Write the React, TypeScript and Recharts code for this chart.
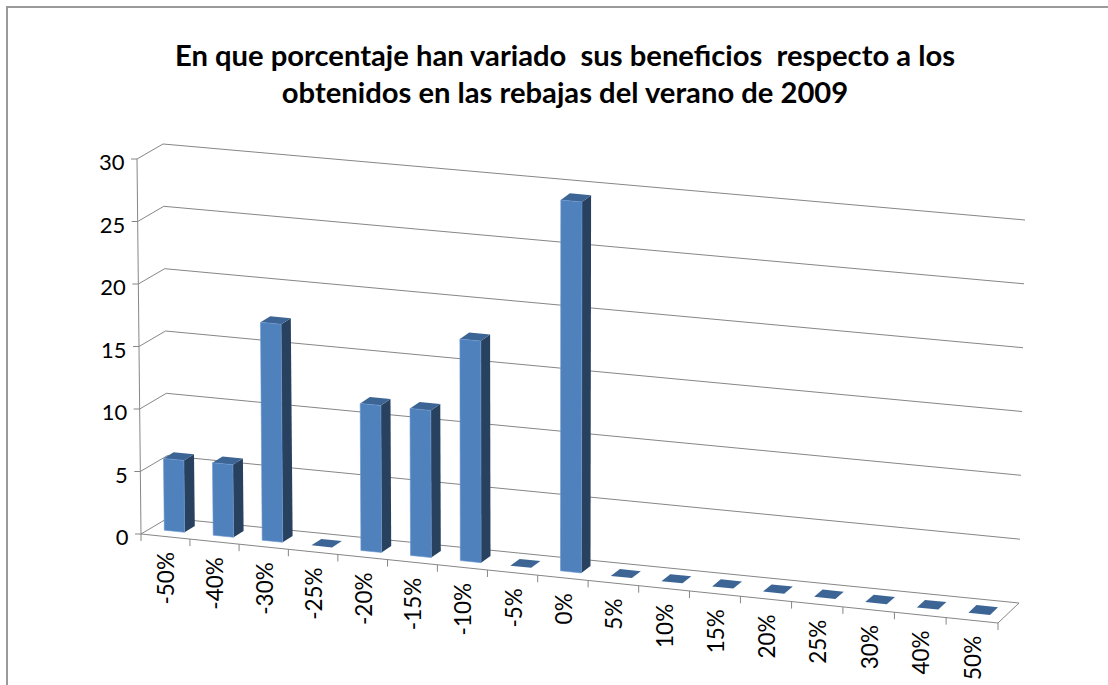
import { BarChart, Bar, XAxis, YAxis, CartesianGrid } from "recharts";

const categories = ["-50%", "-40%", "-30%", "-25%", "-20%", "-15%", "-10%", "-5%", "0%", "5%", "10%", "15%", "20%", "25%", "30%", "40%", "50%"];
const respuestas = [5.75, 5.8, 17.4, 0, 11.7, 11.7, 17.6, 0, 29.4, 0, 0, 0, 0, 0, 0, 0, 0];
const yTicks = [0, 5, 10, 15, 20, 25, 30];

const data = categories.map((rango, i) => ({ rango, respuestas: respuestas[i] }));

const PLOT = { left: 141, top: 159, width: 857, height: 375 };
const BAR_DEPTH = [0.33, 0.71];
const FONT = "Lato, 'Open Sans', sans-serif";
const GRID = "#868686";

// corners of the 3d box the plot is projected onto
const BOX = {
  flb: [141, 534], flt: [137, 159], frb: [998, 623], frt: [1003, 241],
  blb: [168, 518], blt: [163, 144], brb: [1019, 603], brt: [1025, 220],
};

const mix = (a: number[], b: number[], k: number) => [a[0] + (b[0] - a[0]) * k, a[1] + (b[1] - a[1]) * k];

function project(t: number, d: number, v: number) {
  const tw = t - 0.031 * t * (1 - t);
  const front = mix(mix(BOX.flb, BOX.frb, tw), mix(BOX.flt, BOX.frt, tw), v);
  const back = mix(mix(BOX.blb, BOX.brb, tw), mix(BOX.blt, BOX.brt, tw), v);
  return mix(front, back, d);
}

const toT = (x: number) => (x - PLOT.left) / PLOT.width;
const toV = (y: number) => (PLOT.top + PLOT.height - y) / PLOT.height;
const pts = (list: number[][]) => list.map((p) => `${p[0].toFixed(1)},${p[1].toFixed(1)}`).join(" ");

function Bar3D(props: any) {
  const { x, y, width, height } = props;
  const t0 = toT(x);
  const t1 = toT(x + width);
  const v1 = toV(y);
  const v0 = toV(y + height);
  const [d0, d1] = BAR_DEPTH;
  const top = [project(t0, d0, v1), project(t1, d0, v1), project(t1, d1, v1), project(t0, d1, v1)];
  if (v1 - v0 <= 0) {
    return <polygon points={pts(top)} fill="#3c6595" />;
  }
  const face = [project(t0, d0, v0), project(t1, d0, v0), project(t1, d0, v1), project(t0, d0, v1)];
  const side = [project(t1, d0, v0), project(t1, d1, v0), project(t1, d1, v1), project(t1, d0, v1)];
  return (
    <g>
      <polygon points={pts(side)} fill="#28415f" />
      <polygon points={pts(top)} fill="#3c6595" />
      <polygon points={pts(face)} fill="#4f81bd" stroke="#6a96cc" strokeWidth={0.6} />
    </g>
  );
}

function gridLine(props: any) {
  const v = toV(props.y1);
  const a = project(0, 0, v);
  const b = project(0, 1, v);
  const c = project(1, 1, v);
  return (
    <g key={props.key ?? props.y1}>
      <polyline points={pts([a, b, c])} fill="none" stroke={GRID} />
      {v < 0.001 && (
        <g>
          <line x1={a[0]} y1={a[1]} x2={project(0, 0, 1)[0]} y2={project(0, 0, 1)[1]} stroke={GRID} />
          <polyline points={pts([a, project(1, 0, 0), project(1, 1, 0)])} fill="none" stroke={GRID} />
        </g>
      )}
    </g>
  );
}

function YTick(props: any) {
  const { y, payload } = props;
  const p = project(0, 0, toV(y));
  return (
    <g>
      <line x1={p[0] - 6} y1={p[1]} x2={p[0]} y2={p[1]} stroke={GRID} />
      <text x={p[0] - 12.5} y={p[1] + 11} textAnchor="end" fontFamily={FONT} fontSize={22} fill="#000">
        {payload.value}
      </text>
    </g>
  );
}

function XTick(props: any) {
  const { x, payload, index } = props;
  const half = 0.5 / categories.length;
  const t = toT(x);
  const p = project(t, 0, 0);
  const r = project(t + half, 0, 0);
  const l = project(t - half, 0, 0);
  return (
    <g>
      <line x1={r[0]} y1={r[1]} x2={r[0]} y2={r[1] + 7} stroke={GRID} />
      {index === 0 && <line x1={l[0]} y1={l[1]} x2={l[0]} y2={l[1] + 7} stroke={GRID} />}
      <text
        transform={`translate(${p[0] + 9},${p[1] + 15.5}) rotate(-90)`}
        textAnchor="end"
        fontFamily={FONT}
        fontSize={22.5}
        fill="#000"
      >
        {payload.value}
      </text>
    </g>
  );
}

export default function App() {
  return (
    <div style={{ position: "absolute", left: 0, top: 0, width: 1108, height: 685, overflow: "hidden", background: "#fff" }}>
      <div style={{ position: "absolute", left: 6, top: 6, width: 1102, height: 679, borderTop: "2px solid #9a9a9a", borderLeft: "2px solid #9a9a9a" }} />
      <div
        style={{
          position: "absolute",
          left: 65,
          top: 36,
          width: 1000,
          textAlign: "center",
          fontFamily: FONT,
          fontWeight: 700,
          fontSize: 29.2,
          lineHeight: "37px",
          color: "#000",
          whiteSpace: "pre",
        }}
      >
        {"En que porcentaje han variado  sus beneficios  respecto a los\nobtenidos en las rebajas del verano de 2009"}
      </div>
      <BarChart
        width={1108}
        height={685}
        data={data}
        margin={{ top: PLOT.top, left: PLOT.left - 60, right: 1108 - PLOT.left - PLOT.width, bottom: 685 - PLOT.top - PLOT.height - 60 }}
        barCategoryGap="29.5%"
        style={{ position: "absolute", left: 0, top: 0 }}
      >
        <CartesianGrid vertical={false} horizontal={gridLine} />
        <XAxis dataKey="rango" height={60} interval={0} axisLine={false} tickLine={false} tick={XTick} />
        <YAxis width={60} domain={[0, 30]} ticks={yTicks} axisLine={false} tickLine={false} tick={YTick} />
        <Bar dataKey="respuestas" isAnimationActive={false} shape={Bar3D} />
      </BarChart>
    </div>
  );
}
